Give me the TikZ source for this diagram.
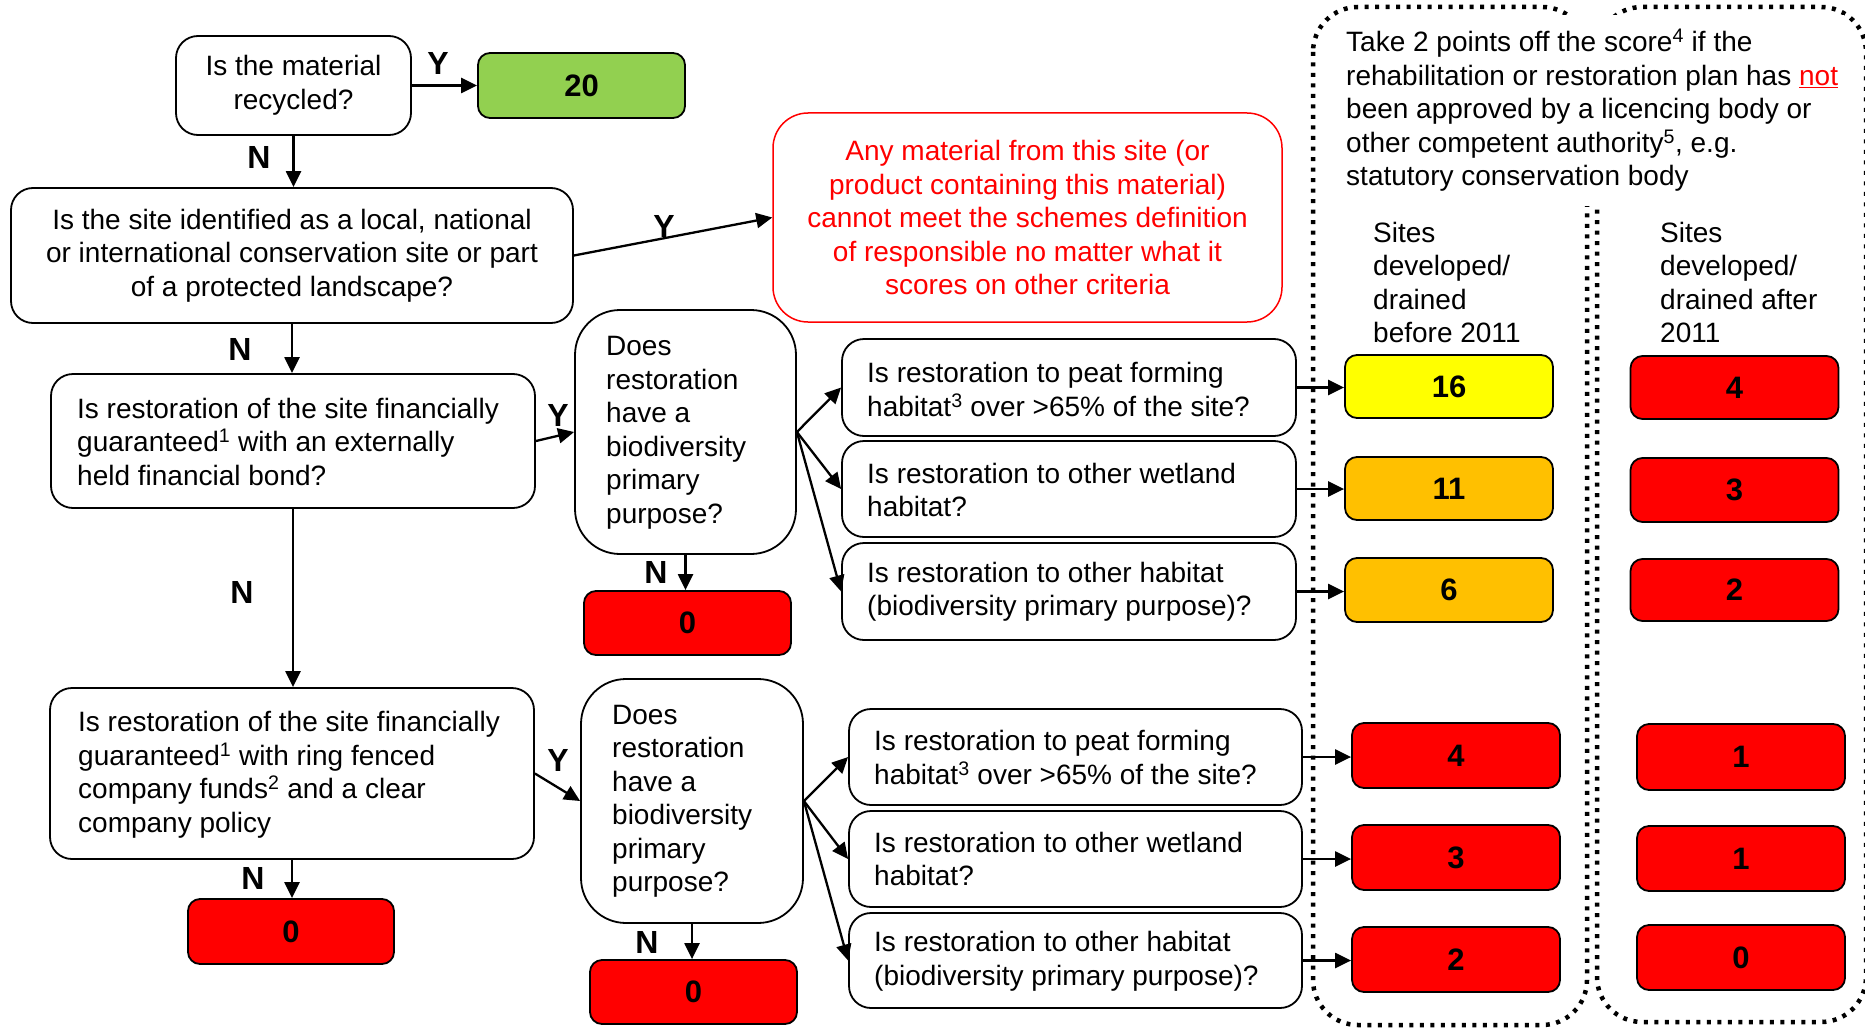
\documentclass[tikz,border=0pt]{standalone}
\usepackage{fontspec}
\setmainfont{Liberation Sans}
\usetikzlibrary{arrows.meta}
\definecolor{cgreen}{HTML}{92D050}
\definecolor{cyellow}{HTML}{FFFF00}
\definecolor{corange}{HTML}{FFC000}
\definecolor{cred}{HTML}{FF0000}
\begin{document}
\begin{tikzpicture}[x=1pt,y=-1pt,
  every node/.style={font=\fontsize{28}{33.5}\selectfont},
  qbox/.style={draw, line width=1.8pt, rounded corners=22pt, fill=white, inner sep=0pt},
  tallbox/.style={qbox, rounded corners=45pt, minimum width=221pt, minimum height=244pt},
  score/.style={draw, line width=1.8pt, rounded corners=12pt, minimum width=208pt, minimum height=64pt, font=\fontsize{31}{34}\selectfont\bfseries, inner sep=0pt},
  lbl/.style={font=\fontsize{28}{33.5}\selectfont, anchor=west, align=left, inner sep=0pt},
  yn/.style={font=\fontsize{32}{34}\selectfont\bfseries, inner sep=0pt},
  arr/.style={line width=2.3pt, -{Triangle[length=16pt,width=15pt]}},
  dotbox/.style={line width=4.5pt, dash pattern=on 4pt off 6.5pt, rounded corners=45pt}
]
\useasboundingbox (0,0) rectangle (1865,1030);

% dotted column frames
\draw[dotbox] (1313,7) rectangle (1587,1025);
\draw[dotbox] (1597,7) rectangle (1866,1022);

% header text (white background hides the inner frame sides)
\node[lbl, fill=white, inner xsep=6pt, inner ysep=14pt] (hdr) at (1340,110.5)
  {Take 2 points off the score\textsuperscript{4} if the\\
   rehabilitation or restoration plan has \textcolor{cred}{\underline{not}}\\
   been approved by a licencing body or\\
   other competent authority\textsuperscript{5}, e.g.\\
   statutory conservation body};
\node[lbl] (hleft) at (1373,282.5) {Sites\\developed/\\drained\\before 2011};
\node[lbl] (hright) at (1660,282.5) {Sites\\developed/\\drained after\\2011};

% main chain
\node[qbox, minimum width=235pt, minimum height=99pt, align=center] (q1) at (293.5,85.5) {Is the material\\recycled?};
\node[score, fill=cgreen, minimum width=207pt, minimum height=65pt] (g20) at (581.5,85.5) {20};
\node[qbox, minimum width=562pt, minimum height=135pt, align=center] (q2) at (292,255.5)
  {Is the site identified as a local, national\\or international conservation site or part\\of a protected landscape?};
\node[draw=cred, text=cred, line width=1.5pt, rounded corners=35pt, minimum width=509pt, minimum height=209pt, align=center, inner sep=0pt] (w) at (1027.5,217.5)
  {Any material from this site (or\\product containing this material)\\cannot meet the schemes definition\\of responsible no matter what it\\scores on other criteria};

\node[qbox, minimum width=484pt, minimum height=134pt] (q3) at (293,441) {};
\node[lbl] (q3t) at (77,441.5) {Is restoration of the site financially\\guaranteed\textsuperscript{1} with an externally\\held financial bond?};
\node[tallbox] (q4) at (685.5,432) {};
\node[lbl] (q4t) at (606,433) {Does\\restoration\\have a\\biodiversity\\primary\\purpose?};
\node[score, fill=cred, minimum width=207pt] (r0a) at (687.5,623) {0};

\node[qbox, minimum width=484pt, minimum height=171pt] (q5) at (292,773.5) {};
\node[lbl] (q5t) at (78,775) {Is restoration of the site financially\\guaranteed\textsuperscript{1} with ring fenced\\company funds\textsuperscript{2} and a clear\\company policy};
\node[tallbox, minimum width=222pt] (q6) at (692,801) {};
\node[lbl] (q6t) at (612,801.5) {Does\\restoration\\have a\\biodiversity\\primary\\purpose?};
\node[score, fill=cred, minimum width=206pt, minimum height=65pt] (r0b) at (291,931.5) {0};
\node[score, fill=cred, minimum width=207pt] (r0c) at (693.5,992) {0};

% habitat questions, upper group
\node[qbox, minimum width=454pt, minimum height=97pt] (Qa1) at (1069,387.5) {};
\node[lbl] (Qa1t) at (867,389.5) {Is restoration to peat forming\\habitat\textsuperscript{3} over >65\% of the site?};
\node[qbox, minimum width=454pt, minimum height=96pt] (Qa2) at (1069,489) {};
\node[lbl] (Qa2t) at (867,490) {Is restoration to other wetland\\habitat?};
\node[qbox, minimum width=454pt, minimum height=97pt] (Qa3) at (1069,591.5) {};
\node[lbl] (Qa3t) at (867,592) {Is restoration to other habitat\\(biodiversity primary purpose)?};

% habitat questions, lower group
\node[qbox, minimum width=453pt, minimum height=96pt] (Qb1) at (1075.5,757) {};
\node[lbl] (Qb1t) at (874,757.5) {Is restoration to peat forming\\habitat\textsuperscript{3} over >65\% of the site?};
\node[qbox, minimum width=453pt, minimum height=96pt] (Qb2) at (1075.5,859) {};
\node[lbl] (Qb2t) at (874,859) {Is restoration to other wetland\\habitat?};
\node[qbox, minimum width=453pt, minimum height=95pt] (Qb3) at (1075.5,960.5) {};
\node[lbl] (Qb3t) at (874,961) {Is restoration to other habitat\\(biodiversity primary purpose)?};

% scores
\node[score, fill=cyellow, minimum height=63pt] (sa1) at (1449,386.5) {16};
\node[score, fill=corange, minimum height=63pt] (sa2) at (1449,488.5) {11};
\node[score, fill=corange] (sa3) at (1449,590) {6};
\node[score, fill=cred, minimum height=63pt] (sb1) at (1734.5,387.5) {4};
\node[score, fill=cred] (sb2) at (1734.5,490) {3};
\node[score, fill=cred, minimum height=62pt] (sb3) at (1734.5,590) {2};
\node[score, fill=cred, minimum height=65pt] (sc1) at (1456,755.5) {4};
\node[score, fill=cred, minimum height=65pt] (sc2) at (1456,857.5) {3};
\node[score, fill=cred, minimum height=65pt] (sc3) at (1456,959.5) {2};
\node[score, fill=cred, minimum height=66pt] (sd1) at (1741,757) {1};
\node[score, fill=cred, minimum height=65pt] (sd2) at (1741,858.5) {1};
\node[score, fill=cred, minimum height=65pt] (sd3) at (1741,957.5) {0};

% connectors
\draw[arr] (q1.east) -- (g20.west);
\draw[arr] (q1.south) -- (q1.south |- q2.north);
\draw[arr] (q2.east) -- (w.west);
\draw[arr] (q2.south) -- (q2.south |- q3.north);
\draw[arr] (q3.east) -- (q4.west);
\draw[arr] (q4.south) -- (q4.south |- r0a.north);
\draw[arr] (q3.south) -- (q3.south |- q5.north);
\draw[arr] (q5.east) -- (q6.west);
\draw[arr] (q5.south) -- (q5.south |- r0b.north);
\draw[arr] (q6.south) -- (q6.south |- r0c.north);
\draw[arr] (q4.east) -- (Qa1.west);
\draw[arr] (q4.east) -- (Qa2.west);
\draw[arr] (q4.east) -- (Qa3.west);
\draw[arr] (q6.east) -- (Qb1.west);
\draw[arr] (q6.east) -- (Qb2.west);
\draw[arr] (q6.east) -- (Qb3.west);
\draw[arr] (Qa1.east) -- (Qa1.east -| sa1.west);
\draw[arr] (Qa2.east) -- (Qa2.east -| sa2.west);
\draw[arr] (Qa3.east) -- (Qa3.east -| sa3.west);
\draw[arr] (Qb1.east) -- (Qb1.east -| sc1.west);
\draw[arr] (Qb2.east) -- (Qb2.east -| sc2.west);
\draw[arr] (Qb3.east) -- (Qb3.east -| sc3.west);

% Y / N labels
\node[yn] (y1) at (438,63) {Y};
\node[yn] (n1) at (259,157) {N};
\node[yn] (y2) at (664,226) {Y};
\node[yn] (n2) at (240,349) {N};
\node[yn] (y3) at (558,415) {Y};
\node[yn] (n3) at (656,572) {N};
\node[yn] (n4) at (242,592) {N};
\node[yn] (y4) at (558,760) {Y};
\node[yn] (n5) at (253,878) {N};
\node[yn] (n6) at (647,942) {N};
\end{tikzpicture}
\end{document}
